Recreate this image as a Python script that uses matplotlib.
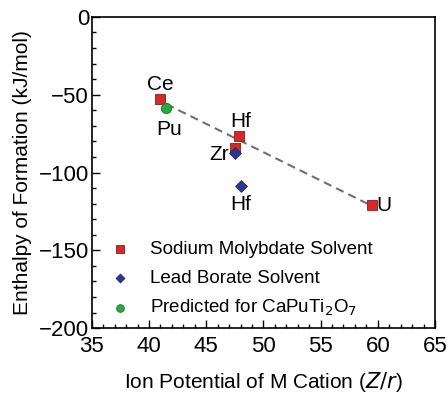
import matplotlib
matplotlib.use("Agg")
from matplotlib import pyplot as plt
from matplotlib.ticker import MultipleLocator

plt.rcParams['font.family'] = ['Liberation Sans', 'DejaVu Sans']

# data
moly_x = [41.0, 47.9, 47.5, 59.5]
moly_y = [-52.5, -76.5, -84.0, -121.0]
moly_labels = ["Ce", "Hf", "Zr", "U"]

borate_x = [47.5, 48.0]
borate_y = [-87.5, -108.5]
borate_labels = ["Zr", "Hf"]

pred_x = [41.5]
pred_y = [-58.5]
pred_labels = ["Pu"]

fit_x = [41.5, 59.5]
fit_y = [-56.0, -121.5]

fig = plt.figure(figsize=(4.48, 3.93), dpi=100)
ax = fig.add_axes([0.205, 0.165, 0.766, 0.792])

ax.plot(fit_x, fit_y, ls=(0, (4, 2.5)), color="#707070", lw=1.5, zorder=2)
ax.scatter(moly_x, moly_y, marker="s", s=50, color="#d42a2a", edgecolor="#8b1a1a",
           lw=0.6, zorder=3, label="Sodium Molybdate Solvent")
ax.scatter(borate_x, borate_y, marker="D", s=36, color="#2b3a8f", edgecolor="#1c2566",
           lw=0.6, zorder=4, label="Lead Borate Solvent")
ax.scatter(pred_x, pred_y, marker="o", s=55, color="#27a845", edgecolor="#1a7a30",
           lw=0.6, zorder=4, label="Predicted for CaPuTi$_2$O$_7$")

# point labels
fs = 15
ax.text(41.0, -49.5, "Ce", ha="center", va="bottom", fontsize=fs)
ax.text(41.8, -66, "Pu", ha="center", va="top", fontsize=fs)
ax.text(48.0, -73.5, "Hf", ha="center", va="bottom", fontsize=fs)
ax.text(47.0, -88.5, "Zr", ha="right", va="center", fontsize=fs)
ax.text(48.0, -114.5, "Hf", ha="center", va="top", fontsize=fs)
ax.text(59.9, -121, "U", ha="left", va="center", fontsize=fs)

ax.set_xlim(35, 65)
ax.set_ylim(-200, 0)
ax.xaxis.set_major_locator(MultipleLocator(5))
ax.xaxis.set_minor_locator(MultipleLocator(1))
ax.yaxis.set_major_locator(MultipleLocator(50))
ax.yaxis.set_minor_locator(MultipleLocator(10))
ax.tick_params(which="both", direction="in", top=False, right=False, labelsize=16)
ax.tick_params(which="major", length=6, width=1)
ax.tick_params(which="minor", length=3, width=1)
ax.tick_params(axis="x", pad=6)
ax.tick_params(axis="y", pad=2)
for s in ax.spines.values():
    s.set_linewidth(1.2)

ax.set_xlabel("Ion Potential of M Cation ($\\it{Z/r}$)", fontsize=15, labelpad=9)
ax.set_ylabel("Enthalpy of Formation (kJ/mol)", fontsize=15, labelpad=5)

ax.legend(loc="lower left", bbox_to_anchor=(0.0, -0.022), frameon=False, fontsize=13.5,
          handletextpad=1.0, handlelength=1.2, labelspacing=0.6, markerscale=0.75)

fig.savefig("out.png", dpi=100)
